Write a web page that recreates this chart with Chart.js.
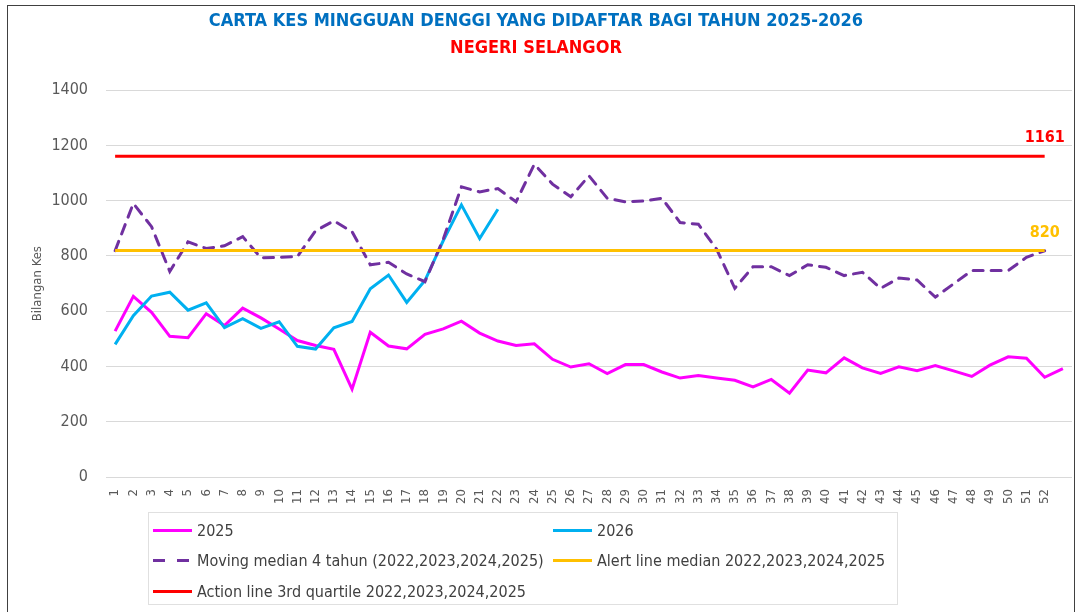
<!DOCTYPE html>
<html>
<head>
<meta charset="utf-8">
<script src="https://cdn.jsdelivr.net/npm/chart.js@4"></script>
<style>
  body { margin: 0; background: #fff; }
  #frame { position: absolute; left: 7px; top: 5px; width: 1068px; height: 620px; border: 1px solid #404040; box-sizing: border-box; }
  #wrap { position: absolute; left: 0; top: 0; width: 1077px; height: 612px; }
  #legend { position: absolute; left: 148px; top: 512px; width: 750px; height: 93px; border: 1px solid #e0e0e0; box-sizing: border-box;
    font-family: 'Liberation Sans Narrow', 'DejaVu Sans Condensed', sans-serif; font-size: 16px; color: #404040; }
  .item { position: absolute; height: 20px; line-height: 20px; white-space: nowrap; }
  .item .sw { position: absolute; left: 0; top: 8px; width: 39px; height: 3px; }
  .item span { position: absolute; left: 44px; top: 0; }
</style>
</head>
<body>
<div id="frame"></div>
<div id="wrap"><canvas id="c" width="1077" height="612"></canvas></div>
<div id="legend"></div>
<script>
var FONT = "'Liberation Sans Narrow', 'DejaVu Sans Condensed', sans-serif"

var weeks = ['1','2','3','4','5','6','7','8','9','10','11','12','13','14','15','16','17','18','19','20',
  '21','22','23','24','25','26','27','28','29','30','31','32','33','34','35','36','37','38','39','40',
  '41','42','43','44','45','46','47','48','49','50','51','52','']

var cases2025 = [528,654,596,509,504,591,548,611,576,536,494,476,462,318,524,474,464,516,536,564,
  521,492,476,482,426,398,410,374,407,407,380,358,367,358,350,326,353,303,387,377,
  431,395,375,399,385,403,384,364,405,435,430,361,392]

var cases2026 = [480,584,655,669,604,630,541,573,538,562,473,463,540,563,681,731,632,711,855,985,863,969]

var movingMedian = [819,990,906,744,851,827,837,870,793,795,798,891,927,888,768,777,735,707,860,1050,
  1032,1044,996,1132,1060,1014,1090,1009,996,999,1009,921,915,825,683,761,761,729,768,759,
  729,741,683,720,713,651,699,747,747,747,795,819]

var alertLine = [{x:'1', y:820}, {x:'52', y:820}]
var actionLine = [{x:'1', y:1161}, {x:'52', y:1161}]

var yTicks = [0,200,400,600,800,1000,1200,1400]

// labels for the two threshold lines
var endLabels = {
  id: 'endLabels',
  afterDatasetsDraw: function(chart){
    var ctx = chart.ctx
    ;[3,4].forEach(function(i){
      var ds = chart.data.datasets[i]
      var pts = chart.getDatasetMeta(i).data
      var p = pts[pts.length-1]
      ctx.save()
      ctx.font = 'bold 16px ' + FONT
      ctx.fillStyle = ds.borderColor
      ctx.textAlign = 'center'
      ctx.textBaseline = 'bottom'
      ctx.fillText(String(ds.data[ds.data.length-1].y), p.x, p.y - 10)
      ctx.restore()
    })
  }
}

var chart = new Chart(document.getElementById('c'), {
  type: 'line',
  data: {
    labels: weeks,
    datasets: [
      {label:'2025', data:cases2025, borderColor:'#FF00FF', borderWidth:3, pointRadius:0, order:4},
      {label:'2026', data:cases2026, borderColor:'#00B0F0', borderWidth:3, pointRadius:0, order:3},
      {label:'Moving median 4 tahun (2022,2023,2024,2025)', data:movingMedian, borderColor:'#7030A0', borderWidth:3, borderDash:[10,8], borderCapStyle:'round', pointRadius:0, order:2},
      {label:'Alert line median 2022,2023,2024,2025', data:alertLine, borderColor:'#FFC000', borderWidth:3, pointRadius:0, order:1},
      {label:'Action line 3rd quartile 2022,2023,2024,2025', data:actionLine, borderColor:'#FF0000', borderWidth:3, pointRadius:0, order:0}
    ]
  },
  options: {
    responsive: false,
    animation: false,
    layout: { padding: { top: 6, left: 0, right: 5, bottom: 107 } },
    plugins: {
      legend: { display: false },
      tooltip: { enabled: false },
      title: { display: true, text: 'CARTA KES MINGGUAN DENGGI YANG DIDAFTAR BAGI TAHUN 2025-2026',
        color: '#0070C0', font: { family: FONT, size: 18, weight: 'bold' }, padding: { top: 5, bottom: 5 } },
      subtitle: { display: true, text: 'NEGERI SELANGOR',
        color: '#FF0000', font: { family: FONT, size: 18, weight: 'bold' }, padding: { bottom: 31 } }
    },
    scales: {
      x: {
        offset: true,
        grid: { display: false },
        border: { display: false },
        ticks: { autoSkip: false, maxRotation: 90, minRotation: 90, color: '#595959', font: { family: FONT, size: 13 }, padding: 4 },
        afterFit: function(s){ s.height = 28; s.paddingRight = 0 }
      },
      y: {
        min: 0, max: 1400,
        afterBuildTicks: function(s){ s.ticks = yTicks.map(function(v){ return {value:v} }) },
        grid: { color: '#d9d9d9', lineWidth: 1, drawTicks: false },
        border: { display: false },
        ticks: { color: '#595959', font: { family: FONT, size: 16 }, padding: 18,
          callback: function(v){ return String(v) } },
        title: { display: true, text: 'Bilangan Kes', color: '#595959', font: { family: FONT, size: 13 }, padding: { top: 30, bottom: 8 } },
        afterFit: function(s){ s.width = 106 }
      }
    }
  },
  plugins: [endLabels]
})

// html legend, two columns like the original
var legend = document.getElementById('legend')
var spots = [[4,8],[404,8],[4,38],[404,38],[4,69]]
chart.data.datasets.forEach(function(ds, i){
  var d = document.createElement('div')
  d.className = 'item'
  d.style.left = spots[i][0] + 'px'
  d.style.top = spots[i][1] + 'px'
  var sw = document.createElement('div')
  sw.className = 'sw'
  if (ds.borderDash) {
    sw.style.background = 'repeating-linear-gradient(90deg,' + ds.borderColor + ' 0 12px, transparent 12px 24px)'
  } else {
    sw.style.background = ds.borderColor
  }
  var t = document.createElement('span')
  t.textContent = ds.label
  d.appendChild(sw); d.appendChild(t)
  legend.appendChild(d)
})
</script>
</body>
</html>
